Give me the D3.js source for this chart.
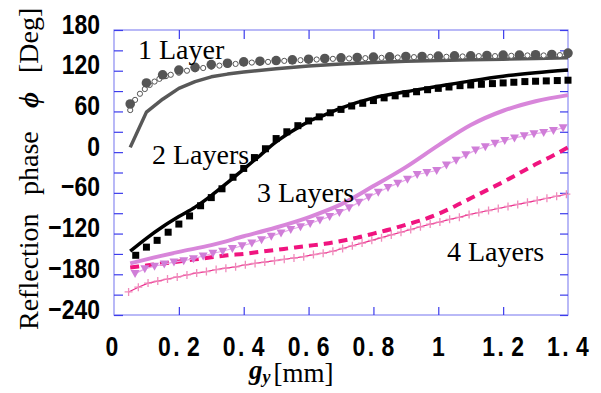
<!DOCTYPE html>
<html>
<head>
<meta charset="utf-8">
<script src="https://cdn.jsdelivr.net/npm/d3@7"></script>
<style>
  html, body { margin: 0; padding: 0; background: #fff; }
  svg { display: block; }
</style>
</head>
<body>
<svg id="chart" width="601" height="393"></svg>
<script>
// ---------- data ----------
const yTickLabels = [-240, -180, -120, -60, 0, 60, 120, 180];
const xTickLabels = [0, 0.2, 0.4, 0.6, 0.8, 1, 1.2, 1.4];

const layer1LineX = [0.05, 0.1, 0.15, 0.2, 0.25, 0.3, 0.35, 0.4, 0.5, 0.6, 0.7, 0.8, 0.9, 1.0, 1.1, 1.2, 1.3, 1.4];
const layer1LineY = [7, 59, 78, 94, 104, 111, 115, 118, 123, 127, 130, 132, 134, 135, 136, 137, 138, 139];

const layer1FilledX = [0.05, 0.1, 0.15, 0.2, 0.25, 0.3, 0.35, 0.4, 0.45, 0.5, 0.55, 0.6, 0.65, 0.7, 0.75, 0.8, 0.85, 0.9, 0.95, 1.0, 1.05, 1.1, 1.15, 1.2, 1.25, 1.3, 1.35, 1.4];
const layer1FilledY = [71, 102, 114, 121, 125, 129, 131, 133, 134, 135, 136, 137, 138, 139, 139.5, 140, 140.5, 141, 141, 141.5, 142, 142, 142.5, 143, 143, 143.5, 144, 146];

const layer1OpenX = [0.05, 0.065, 0.08, 0.095, 0.11, 0.125, 0.14, 0.16, 0.175, 0.2, 0.225, 0.25, 0.275, 0.3, 0.325, 0.35, 0.375, 0.4, 0.425, 0.45, 0.475, 0.5, 0.525, 0.55, 0.575, 0.6, 0.625, 0.65, 0.675, 0.7, 0.725, 0.75, 0.775, 0.8, 0.825, 0.85, 0.875, 0.9, 0.925, 0.95, 0.975, 1.0, 1.025, 1.05, 1.075, 1.1, 1.125, 1.15, 1.175, 1.2, 1.225, 1.25, 1.275, 1.3, 1.325, 1.35, 1.375, 1.4];
const layer1OpenY = [62, 77, 86, 93, 99, 104, 108, 112, 114, 117, 120, 122, 124, 126, 127.5, 129, 130, 131, 132, 132.5, 133, 134, 134.5, 135, 135.5, 136, 136.5, 137, 137.5, 138, 138, 138.5, 138.5, 139, 139, 139.5, 139.5, 140, 140, 140, 140.5, 140.5, 140.5, 141, 141, 141, 141.5, 141.5, 141.5, 142, 142, 142, 142.5, 142.5, 142.5, 143, 143, 143];

const layer2LineX = [0.05, 0.1, 0.15, 0.2, 0.25, 0.3, 0.35, 0.4, 0.45, 0.5, 0.55, 0.6, 0.65, 0.7, 0.8, 0.9, 1.0, 1.1, 1.2, 1.3, 1.4];
const layer2LineY = [-146, -127, -110, -95, -81, -64, -45, -25, -5, 15, 31, 45, 55, 65, 80, 89, 97, 105, 112, 117, 121];

const layer2SquareX = [0.067, 0.1, 0.133, 0.167, 0.2, 0.233, 0.267, 0.3, 0.333, 0.367, 0.4, 0.433, 0.467, 0.5, 0.533, 0.567, 0.6, 0.633, 0.667, 0.7, 0.733, 0.767, 0.8, 0.833, 0.867, 0.9, 0.933, 0.967, 1.0, 1.033, 1.067, 1.1, 1.133, 1.167, 1.2, 1.233, 1.267, 1.3, 1.333, 1.367, 1.4];
const layer2SquareY = [-152, -140, -130, -118, -106, -94, -79, -67, -54, -37, -24, -8, 5, 20, 30, 39, 46, 52, 58, 63, 68, 72, 76, 80, 83, 86, 89, 92, 94, 96, 98, 99, 100, 101, 102, 103, 104, 104.5, 105, 105.5, 106];

const layer3LineX = [0.05, 0.1, 0.2, 0.3, 0.4, 0.5, 0.6, 0.7, 0.8, 0.9, 1.0, 1.1, 1.2, 1.3, 1.4];
const layer3LineY = [-164, -158, -147, -137, -124, -111, -96, -77, -50, -22, 10, 40, 61, 75, 84];

const layer3TriX = [0.065, 0.095, 0.125, 0.155, 0.185, 0.215, 0.245, 0.275, 0.305, 0.335, 0.365, 0.395, 0.425, 0.455, 0.485, 0.515, 0.545, 0.575, 0.605, 0.635, 0.665, 0.695, 0.725, 0.755, 0.785, 0.815, 0.845, 0.875, 0.905, 0.935, 0.965, 0.995, 1.025, 1.055, 1.085, 1.115, 1.145, 1.175, 1.205, 1.235, 1.265, 1.295, 1.325, 1.355, 1.385];
const layer3TriY = [-179, -172, -168, -165, -162, -160, -157, -153, -149, -146, -142, -138, -134, -129, -124, -119, -114, -110, -105, -100, -95, -89, -82, -74, -66, -59, -52, -46, -40, -33, -30, -27, -19, -12, -4, 3, 8, 13, 17, 21, 24, 27, 29, 32, 36];

const layer4DashX = [0.05, 0.1, 0.15, 0.2, 0.25, 0.3, 0.35, 0.4, 0.45, 0.5, 0.55, 0.6, 0.65, 0.7, 0.75, 0.8, 0.85, 0.9, 0.95, 1.0, 1.05, 1.1, 1.15, 1.2, 1.25, 1.3, 1.35, 1.4];
const layer4DashY = [-170, -167, -164, -161, -158, -155, -152, -150, -147, -144, -141, -138, -135, -131, -126, -120, -114, -107, -100, -91, -80, -68, -56, -44, -31, -18, -6, 7];

const layer4PlusX = [0.045, 0.075, 0.105, 0.135, 0.165, 0.195, 0.225, 0.255, 0.285, 0.315, 0.345, 0.375, 0.405, 0.435, 0.465, 0.495, 0.525, 0.555, 0.585, 0.615, 0.645, 0.675, 0.705, 0.735, 0.765, 0.795, 0.825, 0.855, 0.885, 0.915, 0.945, 0.975, 1.005, 1.035, 1.065, 1.095, 1.125, 1.155, 1.185, 1.215, 1.245, 1.275, 1.305, 1.335, 1.365, 1.395];
const layer4PlusY = [-206, -199, -193, -190, -187, -184, -181, -178, -176, -173, -171, -169, -166, -164, -162, -160, -158, -156, -154, -151, -149, -146, -142, -138, -134, -130, -126, -122, -118, -114, -110, -106, -103, -99, -96, -92, -89, -86, -83, -80, -77, -74, -71, -68, -65, -62];

const seriesLabels = ["1 Layer", "2 Layers", "3 Layers", "4 Layers"];

// ---------- chart ----------
const svg = d3.select("#chart");
const L = 114, R = 568, T = 30, B = 315;
const x = d3.scaleLinear().domain([0, 1.4]).range([L, R]);
const y = d3.scaleLinear().domain([-240, 180]).range([B, T]);

const zip = (xs, ys) => xs.map((v, i) => [v, ys[i]]);
const tickFont = "'Liberation Sans', Arial, sans-serif";
const serif = "'Liberation Serif', 'Times New Roman', serif";
const SX = 0.82; // horizontal condensing of tick labels

// frame
svg.append("rect").attr("x", L).attr("y", T).attr("width", R - L).attr("height", B - T)
  .attr("fill", "none").attr("stroke", "#8a8af2").attr("stroke-width", 1.2);

// ticks
const yMinor = d3.range(-240, 181, 30);
const axL = svg.append("g").attr("transform", `translate(${L},0)`)
  .call(d3.axisRight(y).tickValues(yMinor).tickSize(9).tickFormat(""));
const axR = svg.append("g").attr("transform", `translate(${R},0)`)
  .call(d3.axisLeft(y).tickValues(yMinor).tickSize(8).tickFormat(""));
const axB = svg.append("g").attr("transform", `translate(0,${B})`)
  .call(d3.axisTop(x).tickValues([0.2, 0.4, 0.6, 0.8, 1.0, 1.2]).tickSize(8).tickFormat(""));
const axT = svg.append("g").attr("transform", `translate(0,${T})`)
  .call(d3.axisBottom(x).tickValues([0.2, 0.4, 0.6, 0.8, 1.0, 1.2]).tickSize(9).tickFormat(""));
[axL, axR, axB, axT].forEach(a => {
  a.select(".domain").remove();
  a.selectAll(".tick line").attr("stroke", "#3c3cec").attr("stroke-width", 1.2);
});

// y tick labels
svg.append("g").selectAll("g").data(yTickLabels).join("g")
  .attr("transform", d => `translate(100,${y(d) + 3.5}) scale(${SX},1)`)
  .append("text")
  .attr("text-anchor", "end")
  .attr("font-family", tickFont).attr("font-weight", "bold").attr("font-size", 28)
  .attr("fill", "#000")
  .text(d => d < 0 ? "\u2212" + Math.abs(d) : String(d));

// x tick labels
svg.append("g").selectAll("g").data(xTickLabels).join("g")
  .attr("transform", d => `translate(${x(d) + (d === 0 ? -2 : 0)},356) scale(${SX},1)`)
  .append("text")
  .attr("text-anchor", "middle")
  .attr("font-family", tickFont).attr("font-weight", "bold").attr("font-size", 28)
  .attr("fill", "#000")
  .each(function(d) {
    const s = String(d);
    const t = d3.select(this);
    if (s.includes(".")) {
      const [a, b] = s.split(".");
      t.append("tspan").text(a);
      t.append("tspan").attr("dx", 3).text(".");
      t.append("tspan").attr("dx", 9).text(b);
    } else {
      t.text(s);
    }
  });

// axis titles
const xt = svg.append("text").attr("x", 249).attr("y", 379)
  .attr("font-family", serif).attr("fill", "#000");
xt.append("tspan").attr("font-style", "italic").attr("font-weight", "bold").attr("font-size", 27).text("g");
xt.append("tspan").attr("font-style", "italic").attr("font-weight", "bold").attr("font-size", 18).attr("dy", 4).text("y");
xt.append("tspan").attr("font-size", 27).attr("dy", -1).attr("dx", 3).text("[mm]");

const yt = svg.append("text").attr("transform", "translate(38,0) rotate(-90)")
  .attr("font-family", serif).attr("font-size", 28).attr("fill", "#000");
yt.append("tspan").attr("x", -330).text("Reflection ");
yt.append("tspan").attr("x", -195).text("phase ");
yt.append("tspan").attr("x", -108).attr("font-style", "italic").attr("font-weight", "bold").text("\u03D5 ");
yt.append("tspan").attr("x", -73).text("[Deg]");

// ---------- series ----------
const g = svg.append("g");
const lineLin = d3.line().x(d => x(d[0])).y(d => y(d[1]));
const lineSm = d3.line().curve(d3.curveMonotoneX).x(d => x(d[0])).y(d => y(d[1]));

// 4 layers plus
g.append("path").datum(zip(layer4PlusX, layer4PlusY)).attr("d", lineLin)
  .attr("fill", "none").attr("stroke", "#ec2a8c").attr("stroke-width", 1.2);
g.append("g").selectAll("path").data(zip(layer4PlusX, layer4PlusY)).join("path")
  .attr("transform", d => `translate(${x(d[0])},${y(d[1])})`)
  .attr("d", "M-4,0H4M0,-4V4")
  .attr("stroke", "#f08cbc").attr("stroke-width", 1.3).attr("fill", "none");

// 4 layers dashed
g.append("path").datum(zip(layer4DashX, layer4DashY)).attr("d", lineSm)
  .attr("fill", "none").attr("stroke", "#f0147f").attr("stroke-width", 4)
  .attr("stroke-dasharray", "9,6");

// 3 layers triangles
g.append("path").datum(zip(layer3TriX, layer3TriY)).attr("d", lineLin)
  .attr("fill", "none").attr("stroke", "#e6a6ea").attr("stroke-width", 1.2);
g.append("g").selectAll("path").data(zip(layer3TriX, layer3TriY)).join("path")
  .attr("transform", d => `translate(${x(d[0])},${y(d[1])})`)
  .attr("d", "M-4.5,-3.5L4.5,-3.5L0,4.5Z")
  .attr("fill", "#d07ed8");

// 3 layers line
g.append("path").datum(zip(layer3LineX, layer3LineY)).attr("d", lineSm)
  .attr("fill", "none").attr("stroke", "#d886da").attr("stroke-width", 4);

// 2 layers line + squares
g.append("path").datum(zip(layer2LineX, layer2LineY)).attr("d", lineSm)
  .attr("fill", "none").attr("stroke", "#000").attr("stroke-width", 3.5);
g.append("g").selectAll("rect").data(zip(layer2SquareX, layer2SquareY)).join("rect")
  .attr("x", d => x(d[0]) - 3.5).attr("y", d => y(d[1]) - 3.5)
  .attr("width", 7).attr("height", 7).attr("fill", "#000");

// 1 layer line + circles
g.append("path").datum(zip(layer1LineX, layer1LineY)).attr("d", lineLin)
  .attr("fill", "none").attr("stroke", "#585858").attr("stroke-width", 3.5)
  .attr("stroke-linejoin", "round");
g.append("g").selectAll("circle").data(zip(layer1OpenX, layer1OpenY)).join("circle")
  .attr("cx", d => x(d[0])).attr("cy", d => y(d[1])).attr("r", 2.6)
  .attr("fill", "#fff").attr("stroke", "#555").attr("stroke-width", 1);
g.append("g").selectAll("circle").data(zip(layer1FilledX, layer1FilledY)).join("circle")
  .attr("cx", d => x(d[0])).attr("cy", d => y(d[1])).attr("r", 4.8)
  .attr("fill", "#555");

// series labels
const labelPos = [[138, 59], [152, 164], [257, 202], [447, 261]];
svg.append("g").selectAll("text").data(seriesLabels).join("text")
  .attr("x", (d, i) => labelPos[i][0]).attr("y", (d, i) => labelPos[i][1])
  .attr("font-family", serif).attr("font-size", 28).attr("fill", "#000")
  .text(d => d);
</script>
</body>
</html>
